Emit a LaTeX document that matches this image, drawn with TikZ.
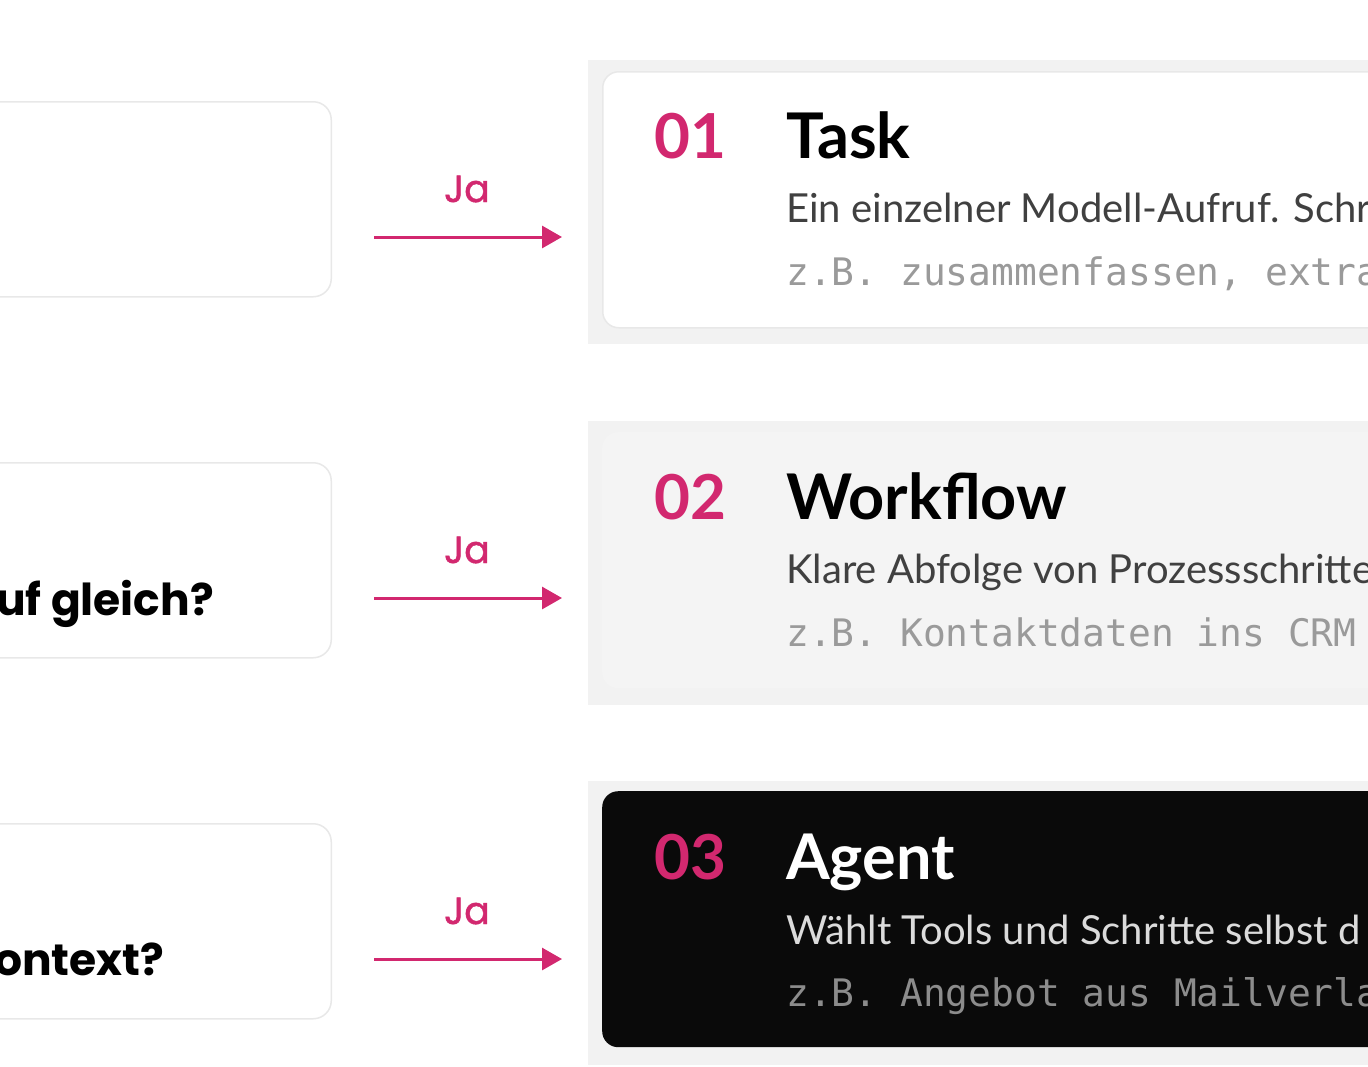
\documentclass[tikz,border=0pt]{standalone}
\usepackage{fontspec}
\setmainfont{Lato}
\newfontfamily\quesfont{Poppins}
\newfontfamily\jafont[FakeBold=1.2]{Poppins}
\newfontfamily\descfont{Lato}
\setmonofont{DejaVu Sans Mono}
\usetikzlibrary{arrows.meta}
\definecolor{jaPink}{HTML}{D2286F}
\definecolor{boxLine}{HTML}{E8E8E8}
\definecolor{panelGray}{HTML}{F2F2F2}
\definecolor{cardGray}{HTML}{F4F4F4}
\definecolor{cardDark}{HTML}{0A0A0A}
\definecolor{descText}{HTML}{404040}
\definecolor{monoText}{HTML}{9A9A9A}
\tikzset{
  qbox/.style={draw=boxLine,line width=1.5pt,fill=white,rounded corners=18pt,
    minimum width=640pt,minimum height=195pt,anchor=north east,inner sep=0pt},
  panel/.style={fill=panelGray,minimum width=820pt,minimum height=284pt,
    anchor=north west,inner sep=0pt},
  card/.style={rounded corners=16pt,minimum width=820pt,minimum height=256pt,
    anchor=north west,inner sep=0pt},
  qtext/.style={anchor=base west,inner sep=0pt,font=\quesfont\bfseries\fontsize{44}{48}\selectfont},
  jalabel/.style={anchor=base,inner sep=0pt,text=jaPink,font=\jafont\fontsize{38}{42}\selectfont},
  janarrow/.style={draw=jaPink,line width=3pt,-{Triangle[length=20pt,width=22pt]}},
  num/.style={anchor=base west,inner sep=0pt,text=jaPink,font=\bfseries\fontsize{62}{66}\selectfont},
  title/.style={anchor=base west,inner sep=0pt,font=\bfseries\fontsize{63}{66}\selectfont},
  desc/.style={anchor=base west,inner sep=0pt,text=descText,font=\descfont\fontsize{40}{44}\selectfont},
  mono/.style={anchor=base west,inner sep=0pt,text=monoText,font=\ttfamily\fontsize{37.9}{42}\selectfont}
}
\begin{document}
\begin{tikzpicture}[x=1pt,y=-1pt]
\useasboundingbox (0,0) rectangle (1368,1066);
\fill [white] (0,0) rectangle (1368,1066);
\clip (0,0) rectangle (1368,1066);
% questions
\node (q1) [qbox] at (332,101) {};
\node (q2) [qbox] at (332,462) {};
\node (q3) [qbox] at (332,823) {};
\node (q2t) [qtext] at (-4,615) {uf gleich?};
\node (q3t) [qtext] at (-6,975) {ontext?};
% panels
\node (p1) [panel] at (588,60) {};
\node (p2) [panel] at (588,421) {};
\node (p3) [panel] at (588,781) {};
\node (c1) [card,fill=white,draw=boxLine,line width=1.5pt] at (602,71) {};
\node (c2) [card,fill=cardGray] at (602,432) {};
\node (c3) [card,fill=cardDark] at (602,791) {};
% arrows
\coordinate (a1) at (374,237);
\coordinate (b1) at (562,237);
\coordinate (a2) at (374,598);
\coordinate (b2) at (562,598);
\coordinate (a3) at (374,959);
\coordinate (b3) at (562,959);
\draw [janarrow] (a1) -- (b1);
\draw [janarrow] (a2) -- (b2);
\draw [janarrow] (a3) -- (b3);
\node (ja1) [jalabel] at (467,202) {Ja};
\node (ja2) [jalabel] at (467,563) {Ja};
\node (ja3) [jalabel] at (467,924) {Ja};
% task
\node (n1) [num] at (654,158) {01};
\node (t1) [title] at (786,158) {Task};
\node (d1) [desc] at (786,222) {Ein einzelner Modell-Aufruf. Schr};
\node (m1) [mono] at (786,285) {z.B. zusammenfassen, extra};
% workflow
\node (n2) [num] at (654,519) {02};
\node (t2) [title] at (786,519) {Workflow};
\node (d2) [desc] at (786,583) {Klare Abfolge von Prozessschritte};
\node (m2) [mono] at (786,646) {z.B. Kontaktdaten ins CRM};
% agent
\node (n3) [num] at (654,879) {03};
\node (t3) [title,text=white] at (786,879) {Agent};
\node (d3) [desc,text=white!86!black] at (786,944) {Wählt Tools und Schritte selbst d};
\node (m3) [mono,text=white!55!black] at (786,1006) {z.B. Angebot aus Mailverla};
\end{tikzpicture}
\end{document}
